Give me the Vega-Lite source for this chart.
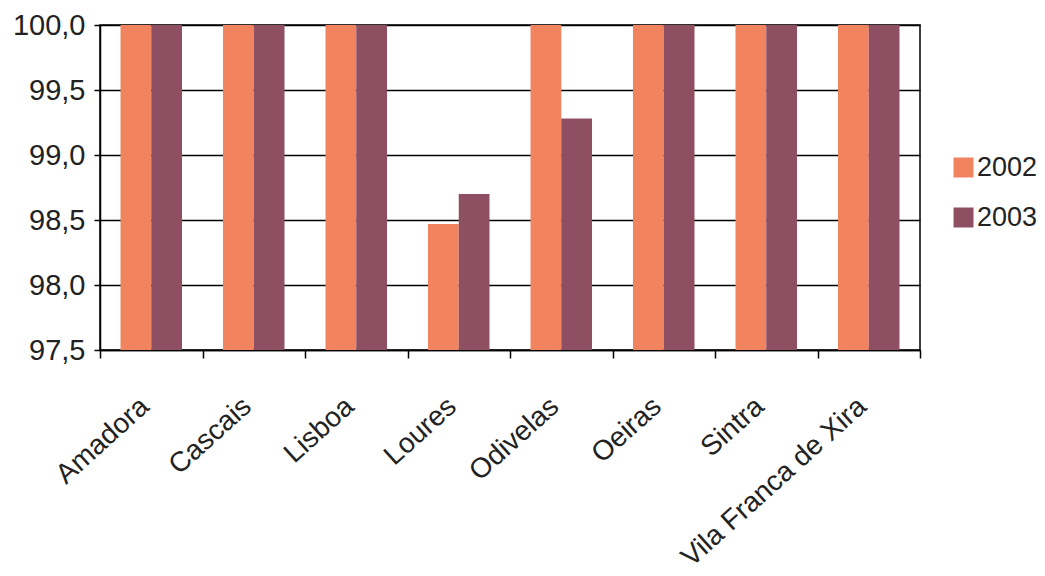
{
  "$schema": "https://vega.github.io/schema/vega-lite/v6.json",
  "width": 820,
  "height": 325,
  "autosize": "none",
  "padding": {"left": 100, "top": 25, "right": 125, "bottom": 226},
  "background": "white",
  "config": {
    "font": "Liberation Sans",
    "view": {"stroke": "black", "strokeWidth": 1.5}
  },
  "data": {
    "values": [
      {"municipio": "Amadora", "ano": "2002", "valor": 100},
      {"municipio": "Amadora", "ano": "2003", "valor": 100},
      {"municipio": "Cascais", "ano": "2002", "valor": 100},
      {"municipio": "Cascais", "ano": "2003", "valor": 100},
      {"municipio": "Lisboa", "ano": "2002", "valor": 100},
      {"municipio": "Lisboa", "ano": "2003", "valor": 100},
      {"municipio": "Loures", "ano": "2002", "valor": 98.47},
      {"municipio": "Loures", "ano": "2003", "valor": 98.7},
      {"municipio": "Odivelas", "ano": "2002", "valor": 100},
      {"municipio": "Odivelas", "ano": "2003", "valor": 99.28},
      {"municipio": "Oeiras", "ano": "2002", "valor": 100},
      {"municipio": "Oeiras", "ano": "2003", "valor": 100},
      {"municipio": "Sintra", "ano": "2002", "valor": 100},
      {"municipio": "Sintra", "ano": "2003", "valor": 100},
      {"municipio": "Vila Franca de Xira", "ano": "2002", "valor": 100},
      {"municipio": "Vila Franca de Xira", "ano": "2003", "valor": 100}
    ]
  },
  "mark": {"type": "bar"},
  "encoding": {
    "x": {
      "field": "municipio",
      "type": "nominal",
      "sort": null,
      "scale": {"paddingInner": 0, "paddingOuter": 0},
      "axis": {
        "title": null,
        "tickBand": "extent",
        "labelAngle": -42,
        "labelFontSize": 28,
        "labelColor": "#222",
        "labelPadding": 34,
        "labelOffset": -16,
        "labelLimit": 500,
        "tickSize": 8,
        "tickColor": "black",
        "tickWidth": 1.5,
        "domainColor": "black",
        "domainWidth": 1.5,
        "grid": false
      }
    },
    "xOffset": {
      "field": "ano",
      "type": "nominal",
      "scale": {"paddingInner": 0, "paddingOuter": 0.667}
    },
    "y": {
      "field": "valor",
      "type": "quantitative",
      "scale": {"domain": [97.5, 100], "zero": false, "nice": false},
      "axis": {
        "title": null,
        "values": [97.5, 98, 98.5, 99, 99.5, 100],
        "labelExpr": "replace(format(datum.value, '.1f'), '.', ',')",
        "labelFontSize": 29,
        "labelColor": "#222",
        "labelPadding": 9,
        "tickSize": 6,
        "tickColor": "black",
        "tickWidth": 1.5,
        "domainColor": "black",
        "domainWidth": 1.5,
        "grid": true,
        "gridColor": "black",
        "gridWidth": 1.5,
        "gridOpacity": 1
      }
    },
    "y2": {"datum": 97.5},
    "color": {
      "field": "ano",
      "type": "nominal",
      "scale": {"domain": ["2002", "2003"], "range": ["#F2835F", "#8E4F62"]},
      "legend": {
        "title": null,
        "orient": "none",
        "legendX": 850,
        "legendY": 129,
        "symbolType": "square",
        "symbolSize": 400,
        "symbolStrokeWidth": 0,
        "symbolOpacity": 1,
        "labelFontSize": 27,
        "labelColor": "#222",
        "labelOffset": 0,
        "rowPadding": 22
      }
    }
  }
}
